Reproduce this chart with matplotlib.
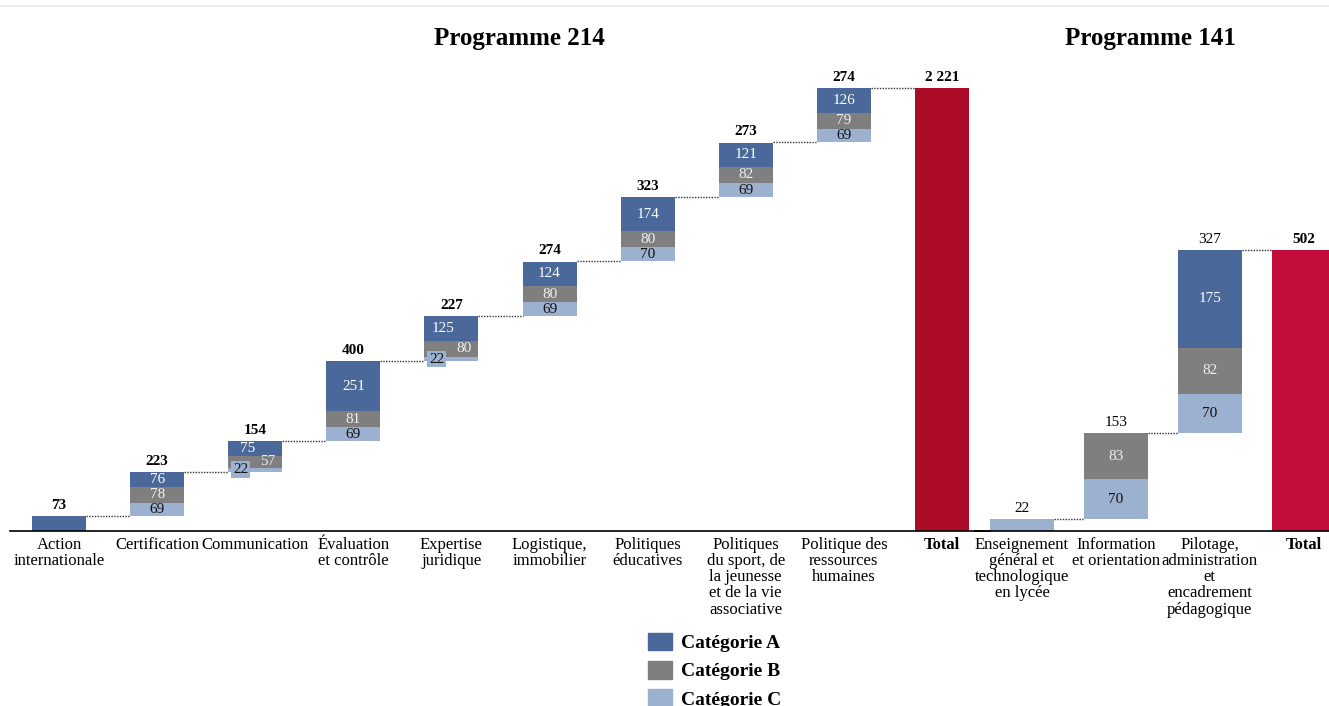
import matplotlib
matplotlib.use("Agg")
import matplotlib.pyplot as plt
from matplotlib.patches import Patch
from matplotlib.lines import Line2D
import numpy as np

plt.rcParams['font.family'] = ['Liberation Serif', 'DejaVu Serif']

# programme 214 : categories and effectifs per category
p214_labels = ["Action\ninternationale", "Certification", "Communication",
               "Évaluation\net contrôle", "Expertise\njuridique",
               "Logistique,\nimmobilier", "Politiques\néducatives",
               "Politiques\ndu sport, de\nla jeunesse\net de la vie\nassociative",
               "Politique des\nressources\nhumaines"]
p214_cat_a = [73, 76, 75, 251, 125, 124, 174, 121, 126]
p214_cat_b = [0, 78, 57, 81, 80, 80, 80, 82, 79]
p214_cat_c = [0, 69, 22, 69, 22, 69, 70, 69, 69]
p214_totals = [73, 223, 154, 400, 227, 274, 323, 273, 274]
p214_grand_total = 2221

# programme 141
p141_labels = ["Enseignement\ngénéral et\ntechnologique\nen lycée",
               "Information\net orientation",
               "Pilotage,\nadministration\net\nencadrement\npédagogique"]
p141_cat_a = [0, 0, 175]
p141_cat_b = [0, 83, 82]
p141_cat_c = [22, 70, 70]
p141_totals = [22, 153, 327]
p141_grand_total = 502

col_a = "#4A6899"
col_b = "#7F7F7F"
col_c = "#9CB0D0"


def fmt(v):
    return f"{v:,}".replace(",", " ")


def draw_waterfall(ax, labels, a, b, c, totals, grand_total, total_color, width, bold_values):
    a = np.array(a)
    b = np.array(b)
    c = np.array(c)
    totals = np.array(totals)
    n = len(totals)
    x = np.arange(n)
    cum = np.cumsum(totals)
    starts = cum - totals

    # stacked segments, C at the bottom, A on top
    ax.bar(x, c, width, bottom=starts, color=col_c, linewidth=0)
    ax.bar(x, b, width, bottom=starts + c, color=col_b, linewidth=0)
    ax.bar(x, a, width, bottom=starts + c + b, color=col_a, linewidth=0)
    ax.bar(n, grand_total, width, color=total_color, linewidth=0)

    # labels inside the segments (only when the bar has several parts)
    for i in range(n):
        nonzero = int(a[i] > 0) + int(b[i] > 0) + int(c[i] > 0)
        if nonzero < 2:
            continue
        small_c = 0 < c[i] < 30
        if c[i] > 0:
            dx = -0.15 if small_c else 0
            bbox = dict(boxstyle="square,pad=0.12", fc=col_c, ec="none") if small_c else None
            ax.text(i + dx, starts[i] + c[i] / 2, str(c[i]), ha="center", va="center",
                    fontsize=11, color="#111111", bbox=bbox)
        if b[i] > 0:
            dx = 0.13 if small_c else 0
            ax.text(i + dx, starts[i] + c[i] + b[i] / 2, str(b[i]), ha="center", va="center",
                    fontsize=11, color="#F0F0F0")
        if a[i] > 0:
            dx = -0.08 if small_c else 0
            ax.text(i + dx, starts[i] + c[i] + b[i] + a[i] / 2, str(a[i]), ha="center",
                    va="center", fontsize=11, color="white")

    # values above the bars
    for i in range(n):
        ax.annotate(fmt(totals[i]), (i, cum[i]), xytext=(0, 3), textcoords="offset points",
                    ha="center", va="bottom", fontsize=11,
                    fontweight="bold" if bold_values else "normal")
    ax.annotate(fmt(grand_total), (n, grand_total), xytext=(0, 3), textcoords="offset points",
                ha="center", va="bottom", fontsize=11, fontweight="bold")

    # dotted connectors
    for i in range(n):
        ax.plot([i + width / 2, i + 1 - width / 2], [cum[i], cum[i]],
                linestyle=(0, (1, 1)), color="#333333", linewidth=1)

    ax.set_xticks(list(x) + [n])
    ax.set_xticklabels(labels + ["Total"], fontsize=12, linespacing=1.02)
    ax.get_xticklabels()[-1].set_fontweight("bold")
    ax.tick_params(axis="x", length=0, pad=4)
    ax.set_yticks([])
    for s in ["top", "left", "right"]:
        ax.spines[s].set_visible(False)
    ax.spines["bottom"].set_color("black")
    ax.spines["bottom"].set_linewidth(1.2)
    ax.patch.set_alpha(0)


fig = plt.figure(figsize=(13.29, 7.06), dpi=100)
W, H = 1329, 706
base = (H - 531) / H
height = 471 / H

ax1 = fig.add_axes([10 / W, base, 980 / W, height])
draw_waterfall(ax1, p214_labels, p214_cat_a, p214_cat_b, p214_cat_c, p214_totals,
               p214_grand_total, "#AC0C28", 0.55, True)
ax1.set_xlim(-0.5, 9.49)
ax1.set_ylim(0, 2360)

ax2 = fig.add_axes([975 / W, base, 354 / W, height])
draw_waterfall(ax2, p141_labels, p141_cat_a, p141_cat_b, p141_cat_c, p141_totals,
               p141_grand_total, "#C20D3A", 0.68, False)
ax2.set_xlim(-0.5, 3.27)
ax2.set_ylim(0, 841)

fig.text(519 / W, 1 - 38 / H, "Programme 214", ha="center", va="center",
         fontsize=18, fontweight="bold")
fig.text(1150 / W, 1 - 38 / H, "Programme 141", ha="center", va="center",
         fontsize=18, fontweight="bold")

# faint top border
fig.add_artist(Line2D([0, 1], [1 - 6 / H, 1 - 6 / H], transform=fig.transFigure,
                      color="#EEEEEE", linewidth=1.5))

handles = [Patch(color=col_a), Patch(color=col_b), Patch(color=col_c)]
fig.legend(handles, ["Catégorie A", "Catégorie B", "Catégorie C"],
           loc="upper left", bbox_to_anchor=(648 / W, 1 - 633 / H), frameon=False,
           prop={"weight": "bold", "size": 14}, handlelength=1.25, handleheight=1.0,
           labelspacing=0.45, borderpad=0, borderaxespad=0, handletextpad=0.45)

fig.savefig("out.png", dpi=100)
